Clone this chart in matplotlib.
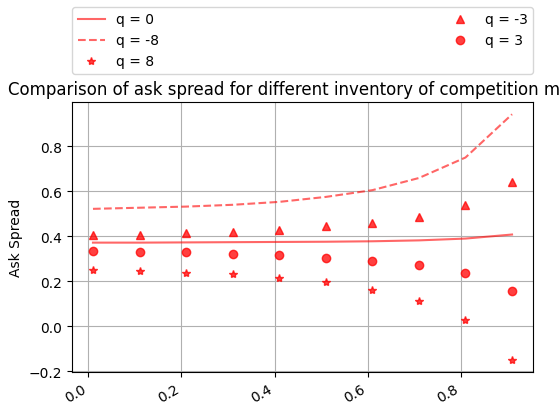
import matplotlib
matplotlib.use('Agg')
import matplotlib.pyplot as plt
import numpy as np

# Competitor inventory levels on the x axis
x = [0.01, 0.11, 0.21, 0.31, 0.41, 0.51, 0.61, 0.71, 0.81, 0.91]

# Ask spread for each own inventory q
spread_q0 = [0.372, 0.372, 0.373, 0.374, 0.375, 0.376, 0.378, 0.382, 0.390, 0.408]
spread_qm8 = [0.522, 0.527, 0.532, 0.540, 0.553, 0.575, 0.605, 0.659, 0.750, 0.942]
spread_q8 = [0.251, 0.245, 0.239, 0.234, 0.215, 0.197, 0.161, 0.112, 0.028, -0.148]
spread_qm3 = [0.408, 0.408, 0.413, 0.419, 0.430, 0.444, 0.461, 0.487, 0.537, 0.640]
spread_q3 = [0.335, 0.329, 0.329, 0.323, 0.317, 0.304, 0.292, 0.274, 0.237, 0.159]

fig = plt.figure(figsize=(5.6, 4.06), dpi=100)
ax = fig.add_axes([0.1286, 0.0813, 0.8232, 0.665])

ax.plot(x, spread_q0, '-', color='red', alpha=0.6, label='q = 0')
ax.plot(x, spread_qm8, '--', color='red', alpha=0.6, label='q = -8')
ax.plot(x, spread_q8, '*', color='red', alpha=0.75, label='q = 8')
ax.plot(x, spread_qm3, '^', color='red', alpha=0.75, label='q = -3')
ax.plot(x, spread_q3, 'o', color='red', alpha=0.75, label='q = 3')

ax.set_ylabel('Ask Spread')
ax.set_title('Comparison of ask spread for different inventory of competition maker')
ax.grid(True)
ax.legend(bbox_to_anchor=(0., 1.104, 1., 0.248), loc='lower left', ncol=2,
          mode='expand', borderaxespad=0.)

for lbl in ax.get_xticklabels():
    lbl.set_rotation(30)
    lbl.set_ha('right')

fig.savefig('out.png', dpi=100)
